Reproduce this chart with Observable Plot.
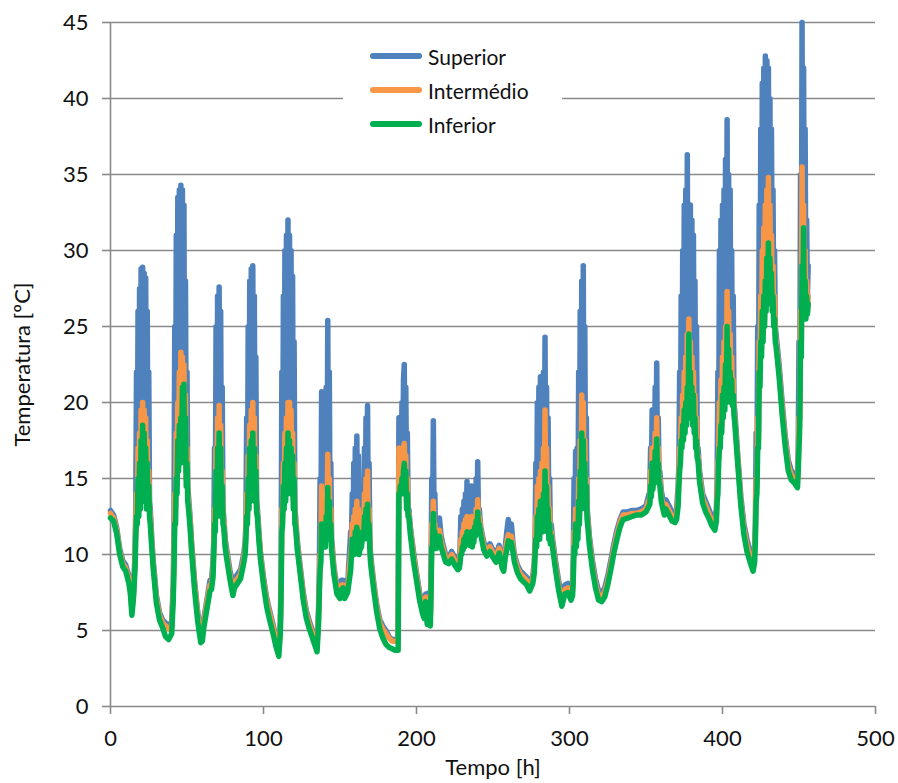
<!DOCTYPE html>
<html>
<head>
<meta charset="utf-8">
<script src="https://cdn.jsdelivr.net/npm/d3@7"></script>
<script src="https://cdn.jsdelivr.net/npm/@observablehq/plot@0.6"></script>
<style>
  html, body { margin: 0; padding: 0; background: #fff; }
  #wrap { position: relative; width: 898px; height: 783px; font-family: Lato, "Open Sans", sans-serif; }
  #legend { position: absolute; left: 343px; top: 38px; width: 219px; height: 102px; background: #fff; }
  .item { position: absolute; left: 27px; height: 34px; display: flex; align-items: center; font-size: 21px; color: #111; }
  .swatch { width: 52px; height: 0; margin-right: 6px; border-top-style: solid; border-top-width: 6px; border-radius: 3px; }
</style>
</head>
<body>
<div id="wrap"></div>
<script>
const seriesNames = ["Superior", "Intermédio", "Inferior"];
const seriesColors = ["#4F81BD", "#F79646", "#00B050"];
const yTicks = [0, 5, 10, 15, 20, 25, 30, 35, 40, 45];
const xTicks = [0, 100, 200, 300, 400, 500];

const hours = [
  0,2,4,6,8,10,12,13,14,15,16,
  16.5,17,17.5,18,18.5,19,19.5,20,20.5,21,21.5,22,22.5,23,23.5,24,24.5,25,25.5,26,
  27,28,30,32,34,36,38,40,41,
  41.5,42,42.5,43,43.5,44,44.5,45,45.5,46,46.5,47,47.5,48,48.5,49,49.5,50,50.5,51,
  52,53,55,57,59,60,61,63,65,66,67,
  67.5,68,68.5,69,69.5,70,70.5,71,71.5,72,72.5,73,73.5,74,
  75,76,78,80,81,83,85,87,88,
  88.5,89,89.5,90,90.5,91,91.5,92,92.5,93,93.5,94,94.5,95,95.5,96,
  97,98,100,102,104,106,108,110,111,
  111.5,112,112.5,113,113.5,114,114.5,115,115.5,116,116.5,117,117.5,118,118.5,119,119.5,120,120.5,121,
  122,124,126,128,130,132,134,135,136,
  136.5,137,137.5,138,138.5,139,139.5,140,140.5,141,141.5,142,142.5,143,143.5,144,144.5,
  145,146,148,150,151,152,153,155,157,
  157.5,158,158.5,159,159.5,160,160.5,161,161.5,162,162.5,163,164,165,165.5,166,166.5,167,167.5,168,168.5,169,169.5,
  170,172,174,176,178,180,182,184,186,188,
  188.5,189,189.5,190,190.5,191,191.5,192,192.5,193,193.5,194,194.5,195,
  196,198,200,202,204,205,206,207,208,209,
  209.5,210,210.5,211,211.5,212,212.5,
  213,214,215,216,217,219,221,223,225,227,228,
  228.5,229,229.5,230,230.5,231,231.5,232,232.5,233,233.5,234,234.5,235,235.5,236,236.5,237,237.5,238,238.5,239,239.5,240,240.5,241,
  242,244,246,248,250,252,254,256,257,258,259,260,261,262,263,264,266,268,270,272,274,276,277,
  277.5,278,278.5,279,279.5,280,280.5,281,281.5,282,282.5,283,283.5,284,284.5,285,285.5,286,286.5,287,287.5,288,
  289,291,293,295,297,299,301,302,
  302.5,303,303.5,304,304.5,305,305.5,306,306.5,307,307.5,308,308.5,309,309.5,310,310.5,311,311.5,
  312,313,315,317,319,321,323,325,327,329,331,333,335,338,341,344,347,350,352,
  352.5,353,353.5,354,354.5,355,355.5,356,356.5,357,357.5,358,358.5,359,
  360,361,362,363,365,367,369,370,371,
  371.5,372,372.5,373,373.5,374,374.5,375,375.5,376,376.5,377,377.5,378,378.5,379,379.5,380,380.5,381,381.5,382,382.5,383,383.5,384,
  385,387,389,391,393,395,396,
  396.5,397,397.5,398,398.5,399,399.5,400,400.5,401,401.5,402,402.5,403,403.5,404,404.5,405,405.5,406,406.5,407,407.5,408,
  410,412,414,416,418,420,421,
  421.5,422,422.5,423,423.5,424,424.5,425,425.5,426,426.5,427,427.5,428,428.5,429,429.5,430,430.5,431,431.5,432,432.5,433,433.5,434,434.5,435,
  437,439,441,443,445,447,449,
  449.5,450,450.5,451,451.5,452,452.5,453,453.5,454,454.5,455,455.5,456
];

const superior = [
  12.9,12.6,11.8,10.4,9.6,9.3,8.6,7.9,6.6,7.6,10,
  13,22,14,26,14,27.5,14.5,28.8,15,28.9,15,28.5,15,28.2,14.5,26,14,22,13.5,13,
  11,9.5,7.3,6.2,5.7,5.5,5.3,5.6,8,
  12,25,15,31,16,33.5,17,34,17,34.3,17.5,34,18,33,17,28,15.5,22,14.5,13.8,
  12.5,10.8,8.2,6.2,4.8,4.9,5.8,7.0,8.3,8.3,9.5,
  11,17,12.5,25,13.5,27,14,27.6,14,26,13.5,21,13,12.5,
  11,10.3,9.0,8.0,8.4,8.7,9.0,10.0,10.8,
  12,19,13,25,14,28,14.5,28.8,15,29,15,27,14.5,23,13.5,13,
  11.5,10.2,8.5,7.2,6.3,5.5,4.6,3.9,5.5,
  9,22,13,27,14,30,15,31,15,32,15.5,31,15,30,15,28.3,14,24,13,12.5,
  11,9.2,7.5,6.3,5.6,5.0,4.5,4.2,6.5,
  9,15,11,20.7,11.5,18,11.5,14,11.5,21,12,25.4,12.5,22,12,16,11,
  10.5,9.2,7.9,7.6,8.3,8.3,7.6,8.0,11.5,
  11,14,11,16,11,17,11.5,17.8,11.5,16.5,11,12,11.5,14,12,17,12.5,19,12.5,19.8,12,16,11,
  10,8.2,6.7,5.7,5.3,5.0,4.6,4.4,4.4,4.5,
  19,15,19,15,20,15,21.5,22.5,15,21,14,18,13,13,
  11.8,10.2,8.8,7.5,6.6,6.3,7.4,6.0,7.5,5.8,
  9,15,11.5,18.8,12,14,11,
  11,11.2,12.4,11.3,10.8,10.0,9.8,10.2,9.8,9.5,9.6,
  10.5,12.5,10.5,13,11,13.5,11.2,14,11.5,14.8,11.5,13,11.3,13.5,11.3,14.5,11.2,12.5,11.5,14,11.8,15,12,16.1,12.5,13,
  11.8,10.8,10.4,10.7,10.3,10.0,10.6,9.6,9.4,10.5,11.5,12.3,11,12,10.8,10,9.3,8.9,8.7,8.5,8.1,8.6,9.5,
  11,16,11.5,20,12,21,12,21.7,12.5,21,12.5,22,13,24.3,13,21,12.5,19,12,15,11.5,12,
  11,9.5,8.2,7.2,8.0,8.1,7.6,7.9,
  10,15,11,16.8,11.5,17,12,22,13,26,14,28,14.5,29,14.5,25,14,19,13,
  12.5,11.2,9.6,8.4,7.6,7.5,7.8,8.6,9.6,10.7,11.6,12.3,12.8,12.8,12.9,12.9,13.0,13.2,14.0,
  14,17,14.5,19.5,15,19,15.5,21,16,22.6,16,19,15.5,15.5,
  14.2,13.6,13.3,13.6,13.2,12.8,12.7,13.0,14.5,
  16,22,17,27,18,30,18.5,33,19,34,19.5,36.3,20,33,20,33,20,32,19.5,31,19,28,18,25,17,17,
  15.5,14.0,13.5,13.0,12.5,12.2,13,
  15,22,17,30,18,32,19,33,20,34,20.5,36,21,38.6,21.5,35,21.5,34,21,30,20.5,27,19.8,19.5,
  16.5,13.8,12.0,11.0,10.2,9.6,10.5,
  12,18,15,25,18,33,22,38,24,41,25,42,26,42.8,27,42.5,27.5,42,28,40,27.5,38,27,34,26,30,25,24.5,
  22.5,20,17.8,16.2,15.5,15.3,15.0,
  17,24,20,35,25,45,27,42,27,38,26.5,32,27,29
];

const intermedio = [
  12.7,12.4,11.6,10.2,9.4,9.1,8.4,7.7,6.4,7.4,9.5,
  12,14,12.5,17,13,18,13.5,19.5,14,20,14,19.5,14,19,13.5,17.5,13.5,15.5,13,12.5,
  10.7,9.2,7.1,6.0,5.5,5.3,5.1,5.3,7.5,
  10,14,13,18,15,20,16,22,16.5,23.3,17,23,17.5,22.5,16.5,20.5,15,17,14,13.4,
  12.2,10.5,8.0,6.0,4.6,4.7,5.5,6.8,8.0,8.0,9,
  10.5,13,12,17,13,19,13.5,19.8,13.5,18.5,13,15.5,12.5,12.2,
  10.7,10,8.7,7.7,8.1,8.4,8.7,9.7,10.4,
  11.5,14,12.5,16.5,13.5,18.5,14,19.5,14.5,20,14.5,19,14,16.5,13,12.7,
  11.2,10,8.3,7.0,6.1,5.3,4.4,3.7,5.2,
  8,13,12.5,16,13.5,18,14,19,14.5,20,15,20,14.5,19.5,14.5,18,13.5,16,12.5,12.2,
  10.7,9.0,7.3,6.1,5.4,4.8,4.3,4.0,6,
  8,10,10,14.5,11,13,11,12,11,14,11.5,16.6,12,15,11.5,13,10.7,
  10.2,9.0,7.7,7.4,8.0,8.0,7.4,7.8,10,
  10.5,12,10.5,12.5,10.5,13,11,13.5,11,13,10.5,11,11,12.5,11.5,14,12,15,12,15.5,11.5,13,10.7,
  9.7,8.0,6.5,5.5,5.1,4.8,4.5,4.3,4.3,4.4,
  17,14.5,16,14.5,16.5,14.5,17,17.3,14.5,16.5,13.5,15,12.7,12.7,
  11.6,10,8.6,7.3,6.4,6.1,7.2,5.8,7.2,5.6,
  8,12,11,13.5,11.5,12,10.7,
  10.7,10.9,11.6,10.9,10.5,9.8,9.6,10.0,9.6,9.3,9.4,
  10,11,10.2,11.5,10.6,12,10.8,12.3,11,12.5,11,12,10.9,12,10.9,12.5,10.8,11.5,11.1,12.5,11.5,13,11.8,13.6,12.2,12.5,
  11.6,10.6,10.2,10.5,10.1,9.8,10.4,9.4,9.2,10.2,10.8,11.3,10.8,11.2,10.5,9.8,9.1,8.7,8.5,8.3,7.9,8.4,9.2,
  10.5,12.5,11,14.5,11.5,15,11.5,15.5,12,16,12,17,12.5,19.5,12.5,17,12,14.5,11.5,13,11,11.5,
  10.7,9.2,7.9,6.9,7.7,7.8,7.3,7.6,
  9,11.5,10.5,13,11,13,11.5,15,12.5,17.5,13.5,20.5,14,20,14,17.5,13.5,15,12.7,
  12.2,10.9,9.3,8.1,7.3,7.2,7.5,8.3,9.3,10.4,11.3,12.1,12.6,12.6,12.7,12.7,12.8,13.0,13.6,
  13.5,15.5,14,17,14.5,17,15,18,15.5,19,15.5,17,15,15,
  13.8,13.3,13.0,13.3,12.9,12.5,12.4,12.7,13.8,
  15,17,16.5,19,17.5,20.5,18,22,18.5,23,19,24.5,19.5,25.5,19.5,24,19.5,23,19,22,18.5,20.5,17.5,19,16.5,16.5,
  15.2,13.7,13.2,12.7,12.2,11.9,12.6,
  14,16,16.5,20,17.5,21.5,18.5,23,19.5,24,20,25,20.5,27.3,21,26,21,24.5,20.5,23,20,21.5,19.5,19,
  16.2,13.5,11.7,10.6,9.9,9.3,10,
  11.5,15,14.5,19,17.5,24,21.5,27,23.5,30,24.5,31.5,25.5,33,26.5,34,27,34.8,27.5,33,27,31,26.5,29,25.5,27,24.5,24,
  22,19.6,17.5,15.9,15.2,15.0,14.8,
  16,19,19,26,24,35.5,26,33,26,30,26,28,26,27
];

const inferior = [
  12.4,12.2,11.4,10.0,9.2,8.9,8.1,7.4,6.0,7.1,9,
  11,12.5,12,15,12.5,16,13,17.5,13.5,18.5,13.5,18,13.5,17,13,16,13,14.5,12.5,12,
  10.4,9,6.8,5.7,5.2,4.6,4.4,4.8,7,
  9,12,12,15,14,17.5,15.5,18.5,16,19,16.5,21,17,21.2,16,19,14.5,16,13.5,13,
  11.8,10.2,7.6,5.6,4.2,4.3,5.2,6.4,7.6,7.7,8.5,
  10,12,11.5,15.5,12.5,17,13,18,13,17,12.5,14.5,12,11.8,
  10.4,9.7,8.4,7.3,7.8,8.1,8.4,9.4,10,
  11,12.5,12,15,13,17,13.5,17.5,14,18,14,17,13.5,15.5,12.8,12.5,
  10.9,9.7,8,6.6,5.7,4.9,4.0,3.3,4.8,
  7.5,11.5,12,14.5,13,16,13.5,17,14,18,14.5,17.5,14,17,14,16.5,13,15,12,11.8,
  10.4,8.7,7.0,5.8,5.1,4.5,3.9,3.6,5.5,
  7.5,9,9.5,12,10.5,11.5,10.5,11,10.5,12.5,11,14.4,11.5,13.5,11,12,10.3,
  9.8,8.7,7.4,7.1,7.7,7.8,7.1,7.5,9,
  10,11,10,11,10,11.5,10.5,11.8,10.5,11.5,10,10.3,10.5,11.5,11,12.5,11.5,13,11.5,13.3,11,12,10.4,
  9.4,7.7,6.2,5.1,4.5,4.1,3.9,3.8,3.7,3.7,
  14,14,14.5,14,15,14,15.5,16,14,15.5,13,14,12.5,12.5,
  11.3,9.6,8.3,7.0,6.1,5.8,6.9,5.4,6.8,5.3,
  7.5,10.5,10.5,12.7,11,11.5,10.4,
  10.4,10.6,11.2,10.5,10.2,9.5,9.4,9.7,9.3,9.0,9.1,
  9.5,10,10,10.5,10.3,11,10.5,11.2,10.7,11.5,10.7,11.2,10.6,11.2,10.6,11.5,10.5,11,10.8,11.8,11.2,12.2,11.5,12.8,11.8,12,
  11.3,10.3,9.9,10.2,9.8,9.5,10.1,9.1,8.9,9.8,10.3,10.9,10.5,10.8,10.2,9.5,8.8,8.4,8.2,8.0,7.6,8.1,8.8,
  10,11,10.5,12.5,11,13,11,13.5,11.5,13.5,11.5,14,12,15.5,12,14.5,11.5,13,11,12,10.7,11.2,
  10.4,8.9,7.6,6.6,7.4,7.5,7.0,7.3,
  8.5,10.5,10,12,10.5,12,11,13.5,12,15.5,13,18,13.5,17.5,13.5,16,13,14.5,12.3,
  11.8,10.6,9.0,7.8,7.0,6.9,7.2,8.0,9.0,10.1,11.0,11.8,12.3,12.4,12.5,12.6,12.6,12.8,13.2,
  13.3,14.5,13.8,16,14.3,16,14.7,16.8,15.2,17.6,15.2,16,14.8,14.6,
  13.5,13.0,12.6,13.0,12.6,12.2,12.1,12.3,13.2,
  14.5,15.5,16,17.5,17,18.5,17.5,19.5,18,20,18.5,21,19,24.5,19,22,19,21,18.5,20.5,18,19,17,17.5,16.3,16.2,
  14.8,13.4,12.8,12.4,11.9,11.6,12.2,
  13.5,14,16,17,17,18.5,18,20.5,19,21,19.5,22.5,20,25,20.5,23.5,20.5,22,20,21.5,19.8,20.5,19.2,18.7,
  15.9,13.2,11.3,10.2,9.5,8.9,9.5,
  11,13.5,14,17,17,22,21,24,23,26,24,27,25,28,26,29.5,26.5,30.5,27,29.5,26.5,28.5,26,27,25,25.5,24,23.7,
  21.7,19.2,17.1,15.5,14.9,14.7,14.4,
  15.5,17,18.5,24,23,29,25.5,31.5,25.5,28,25.5,27,25.8,26.5
];

const allSeries = [superior, intermedio, inferior];
allSeries.forEach((arr, i) => {
  if (arr.length !== hours.length) throw new Error(seriesNames[i] + " length " + arr.length + " vs hours " + hours.length);
});
const rows = [];
seriesNames.forEach((name, si) => {
  hours.forEach((h, i) => rows.push({ t: h, v: allSeries[si][i], s: name }));
});

const gridColor = "#8a8a8a";

const chart = Plot.plot({
  width: 898,
  height: 783,
  marginLeft: 110,
  marginRight: 23,
  marginTop: 22,
  marginBottom: 77,
  style: { fontFamily: "Lato, 'Open Sans', sans-serif", fontSize: "22px", color: "#111", background: "#fff" },
  x: { domain: [0, 500] },
  y: { domain: [0, 45] },
  color: { domain: seriesNames, range: seriesColors },
  marks: [
    Plot.ruleY(yTicks.filter(d => d > 0), { stroke: gridColor, strokeWidth: 1.6, x1: 0, x2: 500 }),
    Plot.ruleX([0], { stroke: gridColor, strokeWidth: 1.6 }),
    Plot.ruleY([0], { stroke: gridColor, strokeWidth: 1.6 }),
    Plot.axisX({ ticks: xTicks, tickSize: 8, tickPadding: 16, stroke: gridColor, strokeWidth: 1.6, fontSize: 22, label: "Tempo [h]", labelAnchor: "center", labelArrow: "none", labelOffset: 68 }),
    Plot.axisY({ ticks: yTicks, tickSize: 8, tickPadding: 14, stroke: gridColor, strokeWidth: 1.6, fontSize: 22, label: "Temperatura [ºC]", labelAnchor: "center", labelArrow: "none", labelOffset: 96 }),
    Plot.line(rows, { x: "t", y: "v", z: "s", stroke: "s", strokeWidth: 5.5, strokeLinejoin: "round", strokeLinecap: "round" })
  ]
});

const wrap = document.getElementById("wrap");
wrap.appendChild(chart);

const legend = document.createElement("div");
legend.id = "legend";
seriesNames.forEach((name, i) => {
  const item = document.createElement("div");
  item.className = "item";
  item.style.top = (i * 34 + 1) + "px";
  const sw = document.createElement("span");
  sw.className = "swatch";
  sw.style.borderTopColor = seriesColors[i];
  const tx = document.createElement("span");
  tx.textContent = name;
  item.appendChild(sw);
  item.appendChild(tx);
  legend.appendChild(item);
});
wrap.appendChild(legend);
</script>
</body>
</html>
